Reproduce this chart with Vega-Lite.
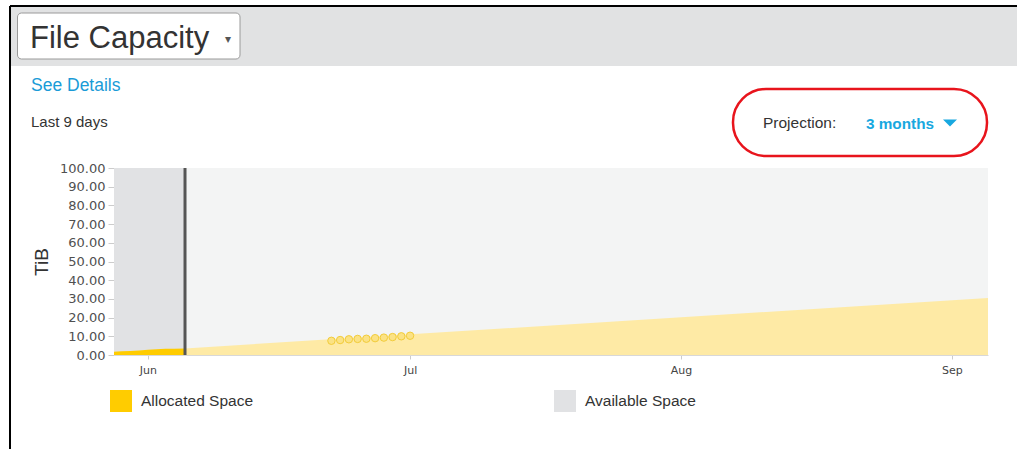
{
  "$schema": "https://vega.github.io/schema/vega-lite/v6.json",
  "width": 874,
  "height": 187,
  "autosize": {"type": "none"},
  "padding": {"left": 114, "top": 168, "right": 29, "bottom": 94},
  "background": "white",
  "config": {
    "view": {"stroke": null},
    "font": "Liberation Sans",
    "axisY": {
      "tickCount": 10,
      "labelOverlap": false,
      "format": ".2f",
      "labelFont": "DejaVu Sans",
      "labelFontSize": 13,
      "labelColor": "#505050",
      "labelPadding": 3,
      "tickSize": 6,
      "tickColor": "#cccccc",
      "domainColor": "#d8d8d8",
      "grid": false,
      "titleFont": "Liberation Sans",
      "titleFontSize": 19,
      "titleFontWeight": "normal",
      "titleColor": "#333333",
      "titlePadding": 8
    },
    "axisX": {
      "labelFont": "DejaVu Sans",
      "labelFontSize": 11,
      "labelColor": "#444444",
      "labelPadding": 5,
      "tickSize": 4,
      "tickColor": "#cccccc",
      "domainColor": "#d8d8d8",
      "grid": false
    }
  },
  "datasets": {
    "regions": [
      {"series": "Available Space", "phase": "history", "start": "2015-05-27T00:00:00Z", "end": "2015-06-05T06:00:00Z", "low": 0, "high": 100},
      {"series": "Available Space", "phase": "projection", "start": "2015-06-05T06:00:00Z", "end": "2015-09-06T00:00:00Z", "low": 0, "high": 100}
    ],
    "history": [
      {"date": "2015-05-28T03:00:00Z", "tib": 1.8, "series": "Allocated Space"},
      {"date": "2015-05-29T00:00:00Z", "tib": 2.0, "series": "Allocated Space"},
      {"date": "2015-05-30T00:00:00Z", "tib": 2.2, "series": "Allocated Space"},
      {"date": "2015-05-31T00:00:00Z", "tib": 2.4, "series": "Allocated Space"},
      {"date": "2015-06-01T00:00:00Z", "tib": 2.8, "series": "Allocated Space"},
      {"date": "2015-06-02T00:00:00Z", "tib": 3.1, "series": "Allocated Space"},
      {"date": "2015-06-03T00:00:00Z", "tib": 3.3, "series": "Allocated Space"},
      {"date": "2015-06-04T00:00:00Z", "tib": 3.4, "series": "Allocated Space"},
      {"date": "2015-06-05T06:00:00Z", "tib": 3.5, "series": "Allocated Space"}
    ],
    "projection": [
      {"date": "2015-06-05T06:00:00Z", "tib": 3.5},
      {"date": "2015-09-05T03:00:00Z", "tib": 30.5}
    ],
    "points": [
      {"date": "2015-06-22T00:00:00Z", "tib": 7.6},
      {"date": "2015-06-23T00:00:00Z", "tib": 8.0},
      {"date": "2015-06-24T00:00:00Z", "tib": 8.4},
      {"date": "2015-06-25T00:00:00Z", "tib": 8.6},
      {"date": "2015-06-26T00:00:00Z", "tib": 8.7},
      {"date": "2015-06-27T00:00:00Z", "tib": 9.0},
      {"date": "2015-06-28T00:00:00Z", "tib": 9.3},
      {"date": "2015-06-29T00:00:00Z", "tib": 9.6},
      {"date": "2015-06-30T00:00:00Z", "tib": 10.0},
      {"date": "2015-07-01T00:00:00Z", "tib": 10.3}
    ],
    "today": [{"date": "2015-06-05T06:00:00Z"}],
    "blank": [{}]
  },
  "layer": [
    {
      "data": {"name": "regions"},
      "transform": [{"filter": "datum.phase === 'projection'"}],
      "mark": {"type": "rect", "color": "#f3f4f4", "clip": true},
      "encoding": {
        "x": {
          "field": "start",
          "type": "temporal",
          "scale": {"type": "utc", "domain": [{"year": 2015, "month": 5, "date": 28, "hours": 3, "utc": true}, {"year": 2015, "month": 9, "date": 5, "hours": 3, "utc": true}], "nice": false},
          "axis": {
            "title": null,
            "labelExpr": "utcFormat(datum.value, '%b')",
            "tickCount": {"interval": "month", "step": 1}
          }
        },
        "x2": {"field": "end"},
        "y": {
          "field": "low",
          "type": "quantitative",
          "scale": {"domain": [0, 100], "nice": false},
          "axis": {"title": "TiB", "format": ".2f", "tickCount": 10, "labelOverlap": false}
        },
        "y2": {"field": "high"}
      }
    },
    {
      "data": {"name": "regions"},
      "transform": [{"filter": "datum.phase === 'history'"}],
      "mark": {"type": "rect", "clip": true},
      "encoding": {
        "x": {"field": "start", "type": "temporal"},
        "x2": {"field": "end"},
        "y": {"field": "low", "type": "quantitative"},
        "y2": {"field": "high"},
        "color": {
          "field": "series",
          "type": "nominal",
          "scale": {"domain": ["Allocated Space", "Available Space"], "range": ["#ffcc00", "#e1e2e4"]},
          "legend": {
            "title": null,
            "orient": "none",
            "legendX": -4,
            "legendY": 222,
            "direction": "horizontal",
            "columns": 2,
            "columnPadding": 300,
            "symbolType": "square",
            "symbolSize": 484,
            "symbolStrokeWidth": 0,
            "symbolOpacity": 1,
            "labelFont": "Liberation Sans",
            "labelFontSize": 15.5,
            "labelColor": "#333333",
            "labelOffset": 9
          }
        }
      }
    },
    {
      "data": {"name": "projection"},
      "mark": {"type": "area", "color": "#feeaa5", "opacity": 1},
      "encoding": {
        "x": {"field": "date", "type": "temporal"},
        "y": {"field": "tib", "type": "quantitative"}
      }
    },
    {
      "data": {"name": "history"},
      "mark": {"type": "area", "opacity": 1},
      "encoding": {
        "x": {"field": "date", "type": "temporal"},
        "y": {"field": "tib", "type": "quantitative"},
        "color": {"field": "series", "type": "nominal"}
      }
    },
    {
      "data": {"name": "points"},
      "mark": {"type": "point", "filled": true, "fill": "#fbe285", "stroke": "#f2cc3a", "strokeWidth": 1, "size": 55, "opacity": 1},
      "encoding": {
        "x": {"field": "date", "type": "temporal"},
        "y": {"field": "tib", "type": "quantitative"}
      }
    },
    {
      "data": {"name": "today"},
      "mark": {"type": "rule", "color": "#555555", "strokeWidth": 3},
      "encoding": {
        "x": {"field": "date", "type": "temporal"}
      }
    },
    {
      "data": {"name": "blank"},
      "mark": {"type": "rect", "fill": "#e1e2e3"},
      "encoding": {"x": {"value": -103}, "x2": {"value": 903}, "y": {"value": -161}, "y2": {"value": -102}}
    },
    {
      "data": {"name": "blank"},
      "mark": {"type": "rule", "color": "#000000", "strokeWidth": 2},
      "encoding": {"x": {"value": -104}, "x2": {"value": 903}, "y": {"value": -162}, "y2": {"value": -162}}
    },
    {
      "data": {"name": "blank"},
      "mark": {"type": "rule", "color": "#000000", "strokeWidth": 2},
      "encoding": {"x": {"value": -104}, "x2": {"value": -104}, "y": {"value": -162}, "y2": {"value": 281}}
    },
    {
      "data": {"name": "blank"},
      "mark": {"type": "rect", "fill": "#ffffff", "stroke": "#9a9a9a", "strokeWidth": 1, "cornerRadius": 4},
      "encoding": {"x": {"value": -96.5}, "x2": {"value": 126}, "y": {"value": -155}, "y2": {"value": -109}}
    },
    {
      "data": {"name": "blank"},
      "mark": {"type": "text", "text": "File Capacity", "fontSize": 31, "color": "#333333", "align": "left", "baseline": "middle", "font": "Liberation Sans"},
      "encoding": {"x": {"value": -84}, "y": {"value": -129}}
    },
    {
      "data": {"name": "blank"},
      "mark": {"type": "text", "text": "▾", "fontSize": 12, "color": "#555555", "align": "center", "baseline": "middle"},
      "encoding": {"x": {"value": 114}, "y": {"value": -129}}
    },
    {
      "data": {"name": "blank"},
      "mark": {"type": "text", "text": "See Details", "fontSize": 17.5, "color": "#1a9bd7", "align": "left", "baseline": "middle", "font": "Liberation Sans"},
      "encoding": {"x": {"value": -83}, "y": {"value": -82}}
    },
    {
      "data": {"name": "blank"},
      "mark": {"type": "text", "text": "Last 9 days", "fontSize": 15, "color": "#333333", "align": "left", "baseline": "middle", "font": "Liberation Sans"},
      "encoding": {"x": {"value": -83}, "y": {"value": -46}}
    },
    {
      "data": {"name": "blank"},
      "mark": {"type": "text", "text": "Projection:", "fontSize": 15.5, "color": "#333333", "align": "left", "baseline": "middle", "font": "Liberation Sans"},
      "encoding": {"x": {"value": 649}, "y": {"value": -45}}
    },
    {
      "data": {"name": "blank"},
      "mark": {"type": "text", "text": "3 months", "fontSize": 15.3, "fontWeight": "bold", "color": "#18a8e0", "align": "left", "baseline": "middle", "font": "Liberation Sans"},
      "encoding": {"x": {"value": 752}, "y": {"value": -44}}
    },
    {
      "data": {"name": "blank"},
      "mark": {"type": "point", "shape": "M-1,-0.5L1,-0.5L0,0.5Z", "filled": true, "color": "#18a8e0", "size": 196, "opacity": 1, "strokeWidth": 0},
      "encoding": {"x": {"value": 836}, "y": {"value": -45}}
    },
    {
      "data": {"name": "blank"},
      "mark": {"type": "rect", "fillOpacity": 0, "stroke": "#e8141c", "strokeWidth": 2.5, "cornerRadius": 33},
      "encoding": {"x": {"value": 619}, "x2": {"value": 873}, "y": {"value": -79}, "y2": {"value": -12}}
    }
  ]
}
